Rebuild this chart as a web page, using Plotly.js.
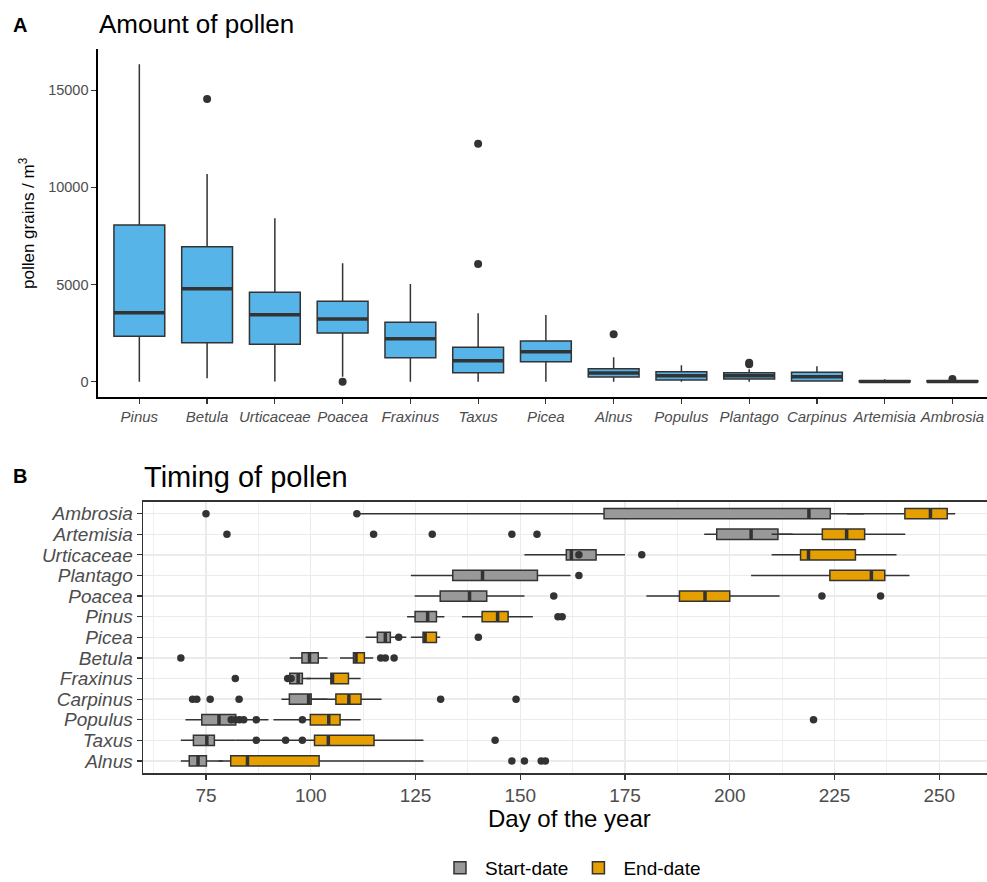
<!DOCTYPE html>
<html>
<head>
<meta charset="utf-8">
<script src="https://cdn.plot.ly/plotly-3.0.1.min.js"></script>
<style>html,body{margin:0;padding:0;background:#fff;}#chart{width:987px;height:882px;}</style>
</head>
<body>
<div id="chart"></div>
<script>
// ---------- Panel A: amount of pollen (box statistics) ----------
const taxa = ['Pinus','Betula','Urticaceae','Poacea','Fraxinus','Taxus','Picea','Alnus','Populus','Plantago','Carpinus','Artemisia','Ambrosia'];
const amtLower  = [0, 175, 10, 250, 0, 0, 0, 0, 0, 0, 0, 0, 0];
const amtQ1     = [2335, 2006, 1924, 2505, 1235, 463, 1029, 242, 90, 140, 40, 0, 0];
const amtMedian = [3549, 4784, 3447, 3225, 2212, 1080, 1543, 450, 309, 300, 257, 15, 15];
const amtQ3     = [8061, 6945, 4599, 4136, 3054, 1770, 2094, 669, 510, 463, 483, 45, 45];
const amtUpper  = [16327, 10684, 8405, 6090, 5026, 3518, 3431, 1255, 850, 640, 800, 120, 80];
const amtOutTaxa = ['Betula','Poacea','Taxus','Taxus','Alnus','Plantago','Plantago','Ambrosia'];
const amtOutVals = [14542, 0, 12243, 6055, 2438, 900, 980, 140];
const amtTicks = [0, 5000, 10000, 15000];

// ---------- Panel B: timing of pollen ----------
const rows = ['Alnus','Taxus','Populus','Carpinus','Fraxinus','Betula','Picea','Pinus','Poacea','Plantago','Urticaceae','Artemisia','Ambrosia'];
const startLower  = [69, 69, 70.1, 93, 95, 95, 113.1, 123, 124.8, 123.9, 151, 193.9, 111];
const startQ1     = [71, 72, 74, 94.9, 95, 97.9, 115.9, 124.9, 130.9, 133.9, 161, 196.9, 170];
const startMedian = [73.1, 75.2, 78.1, 99.5, 97, 99.7, 117.8, 127.9, 137.9, 141, 162.2, 205.1, 218.9];
const startQ3     = [75.1, 77, 82.1, 100.1, 98, 101.8, 119, 130, 142, 154.1, 168.1, 211.5, 224];
const startUpper  = [79, 82, 89.9, 104, 100, 104, 122.8, 131.9, 151, 162, 175, 215, 232];

const endLower  = [78, 82, 91.1, 100, 99, 107, 123.9, 136.1, 180.1, 205.1, 210, 210, 228];
const endQ1     = [80.9, 100.9, 99.9, 106, 104.8, 110.2, 126.8, 140.9, 188, 223.9, 216.9, 222.1, 241.8];
const endMedian = [84.9, 104.2, 104.3, 109.1, 105.2, 110.8, 127.3, 144.6, 194.1, 233.8, 218.8, 227.9, 247.9];
const endQ3     = [102, 115.1, 107, 112, 109, 112.8, 130, 147.1, 200, 237, 230, 232.2, 251.9];
const endUpper  = [126.9, 126.9, 111.9, 116.9, 111.9, 114.9, 130.9, 153, 211.9, 242.9, 239.8, 241.9, 253.8];

const timeOutTaxa = ['Ambrosia','Ambrosia',
  'Artemisia','Artemisia','Artemisia','Artemisia','Artemisia',
  'Urticaceae','Urticaceae','Plantago',
  'Poacea','Poacea','Poacea','Pinus','Pinus','Picea','Picea',
  'Betula','Betula','Betula','Betula','Fraxinus','Fraxinus','Fraxinus',
  'Carpinus','Carpinus','Carpinus','Carpinus','Carpinus','Carpinus',
  'Populus','Populus','Populus','Populus','Populus','Populus','Populus',
  'Taxus','Taxus','Taxus','Taxus','Alnus','Alnus','Alnus','Alnus'];
const timeOutDays = [75, 111,
  80, 115, 129, 148, 154,
  164, 179, 164,
  158, 222, 236, 159, 160, 121, 140,
  69, 116.7, 117.8, 119.9, 82, 94.5, 95.3,
  71.8, 72.8, 76, 82.9, 131, 149,
  81, 82, 83, 84, 87, 98, 220,
  87, 94, 98, 144, 148, 151, 155, 156];
const dayTicks = [75, 100, 125, 150, 175, 200, 225, 250];

const FONT = 'Liberation Sans, Arial, Helvetica, sans-serif';
const EDGE = '#333333';
const GRAY30 = '#4d4d4d';

const traces = [];
// Panel A boxes
traces.push({type:'box', x:taxa, q1:amtQ1, median:amtMedian, q3:amtQ3, lowerfence:amtLower, upperfence:amtUpper,
  xaxis:'x', yaxis:'y', width:0.75, whiskerwidth:0, fillcolor:'#56B4E9', line:{color:EDGE, width:1.5},
  boxpoints:false, showlegend:false, hoverinfo:'skip'});
traces.push({type:'box', x:taxa, q1:amtMedian, median:amtMedian, q3:amtMedian, lowerfence:amtMedian, upperfence:amtMedian,
  xaxis:'x', yaxis:'y', width:0.75, whiskerwidth:0, fillcolor:'rgba(0,0,0,0)', line:{color:EDGE, width:3.5},
  boxpoints:false, showlegend:false, hoverinfo:'skip'});
traces.push({type:'scatter', mode:'markers', x:amtOutTaxa, y:amtOutVals, xaxis:'x', yaxis:'y',
  marker:{color:EDGE, size:8}, showlegend:false, hoverinfo:'skip'});

// Panel B boxes
function hbox(name, fill, lo, q1, med, q3, up, legend){
  traces.push({type:'box', orientation:'h', name:name, y:rows, q1:q1, median:med, q3:q3, lowerfence:lo, upperfence:up,
    xaxis:'x2', yaxis:'y2', width:0.5, whiskerwidth:0, fillcolor:fill, line:{color:EDGE, width:1.5},
    boxpoints:false, showlegend:legend, hoverinfo:'skip', legendgroup:name});
  traces.push({type:'box', orientation:'h', name:name+' median', y:rows, q1:med, median:med, q3:med, lowerfence:med, upperfence:med,
    xaxis:'x2', yaxis:'y2', width:0.5, whiskerwidth:0, fillcolor:'rgba(0,0,0,0)', line:{color:EDGE, width:3.5},
    boxpoints:false, showlegend:false, hoverinfo:'skip', legendgroup:name});
}
hbox('Start-date', '#999999', startLower, startQ1, startMedian, startQ3, startUpper, true);
hbox('End-date', '#E69F00', endLower, endQ1, endMedian, endQ3, endUpper, true);
traces.push({type:'scatter', mode:'markers', x:timeOutDays, y:timeOutTaxa, xaxis:'x2', yaxis:'y2',
  marker:{color:EDGE, size:7.5}, showlegend:false, hoverinfo:'skip'});

const layout = {
  width:987, height:882,
  margin:{l:0, r:0, t:0, b:0, autoexpand:false},
  paper_bgcolor:'#ffffff', plot_bgcolor:'rgba(0,0,0,0)',
  font:{family:FONT, color:'#000'},
  boxmode:'overlay',
  showlegend:true,
  legend:{orientation:'h', x:0.578, xanchor:'center', y:0.016, yanchor:'middle',
    font:{family:FONT, size:19, color:'#000'}, traceorder:'normal', bgcolor:'rgba(0,0,0,0)', itemwidth:40},
  xaxis:{domain:[0.0993, 1], anchor:'y', type:'category', categoryorder:'array', categoryarray:taxa,
    tickmode:'array', tickvals:taxa, ticktext:taxa,
    range:[-0.61, 12.51], showline:true, linecolor:'#000', linewidth:1.6, ticks:'outside', ticklen:5,
    tickcolor:EDGE, tickwidth:1.2, showgrid:false, zeroline:false, automargin:false,
    tickfont:{family:FONT, size:15, color:GRAY30, style:'italic'}},
  yaxis:{domain:[0.5499, 0.9444], anchor:'x', range:[-787, 17114], tickmode:'array', tickvals:amtTicks, tickformat:'d',
    showline:true, linecolor:'#000', linewidth:1.6, ticks:'outside', ticklen:5, tickcolor:EDGE, tickwidth:1.2,
    showgrid:false, zeroline:false, automargin:false,
    tickfont:{family:FONT, size:14.5, color:GRAY30}},
  xaxis2:{domain:[0.1446, 1], anchor:'y2', range:[59.9, 261.4], tickmode:'array', tickvals:dayTicks,
    showline:true, mirror:true, linecolor:EDGE, linewidth:1.2, ticks:'outside', ticklen:5, tickcolor:EDGE, tickwidth:1.2,
    showgrid:true, gridcolor:'#ebebeb', gridwidth:1.4, zeroline:false, automargin:false,
    minor:{dtick:12.5, tick0:0, showgrid:true, gridcolor:'#ebebeb', gridwidth:0.8},
    tickfont:{family:FONT, size:19, color:GRAY30}},
  yaxis2:{domain:[0.1232, 0.4312], anchor:'x2', type:'category', categoryorder:'array', categoryarray:rows,
    tickmode:'array', tickvals:rows, ticktext:rows,
    range:[-0.6, 12.58], showline:true, mirror:true, linecolor:EDGE, linewidth:1.2, ticks:'outside', ticklen:5,
    tickcolor:EDGE, tickwidth:1.2, showgrid:true, gridcolor:'#ebebeb', gridwidth:1.4, zeroline:false, automargin:false,
    tickfont:{family:FONT, size:19, color:GRAY30, style:'italic'}},
  annotations:[
    {text:'<b>A</b>', xref:'paper', yref:'paper', x:0.0112, y:0.9717, xanchor:'left', yanchor:'middle', showarrow:false,
      font:{family:FONT, size:20, color:'#000'}},
    {text:'Amount of pollen', xref:'paper', yref:'paper', x:0.0983, y:0.9728, xanchor:'left', yanchor:'middle', showarrow:false,
      font:{family:FONT, size:26, color:'#000'}},
    {text:'pollen grains / m<sup>3</sup>', xref:'paper', yref:'paper', x:0.0274, y:0.7472, xanchor:'center', yanchor:'middle',
      textangle:-90, showarrow:false, font:{family:FONT, size:17, color:'#000'}},
    {text:'<b>B</b>', xref:'paper', yref:'paper', x:0.0112, y:0.4603, xanchor:'left', yanchor:'middle', showarrow:false,
      font:{family:FONT, size:20, color:'#000'}},
    {text:'Timing of pollen', xref:'paper', yref:'paper', x:0.1436, y:0.4592, xanchor:'left', yanchor:'middle', showarrow:false,
      font:{family:FONT, size:29, color:'#000'}},
    {text:'Day of the year', xref:'paper', yref:'paper', x:0.5765, y:0.0725, xanchor:'center', yanchor:'middle', showarrow:false,
      font:{family:FONT, size:24, color:'#000'}}
  ]
};

Plotly.newPlot('chart', traces, layout, {displayModeBar:false, staticPlot:true});
</script>
</body>
</html>
